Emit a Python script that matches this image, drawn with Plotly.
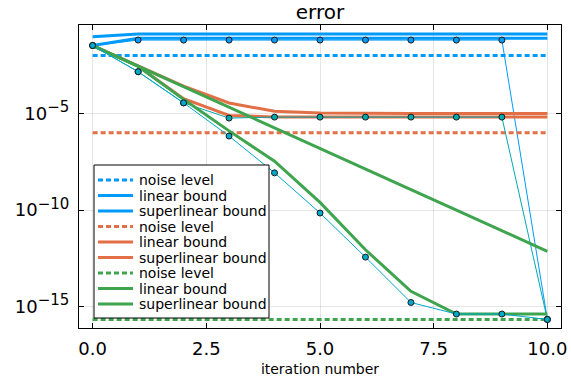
import plotly.graph_objects as go

# ---------------- data ----------------
iterations = [0, 1, 2, 3, 4, 5, 6, 7, 8, 9, 10]
group_colors = ["#009AFA", "#E36F47", "#3EA44E"]
error_colors = ["#009AFA", "#00A9AD", "#00A8CB"]
noise_levels = [1e-2, 1e-6, 2.2e-16]

blue_linear = [9.3e-2, 1.29e-1, 1.29e-1, 1.29e-1, 1.29e-1, 1.29e-1, 1.29e-1, 1.29e-1, 1.29e-1, 1.29e-1, 1.29e-1]
blue_superlinear = [3.3e-2, 7.8e-2, 7.8e-2, 7.8e-2, 7.8e-2, 7.8e-2, 7.8e-2, 7.8e-2, 7.8e-2, 7.8e-2, 7.8e-2]
blue_error = [3.3e-2, 6.3e-2, 6.3e-2, 6.3e-2, 6.3e-2, 6.3e-2, 6.3e-2, 6.3e-2, 6.3e-2, 6.3e-2, 2.2e-16]

orange_linear = [3.3e-2, 2.9e-3, 2.6e-4, 3.5e-5, 1.3e-5, 1.05e-5, 1.0e-5, 1.0e-5, 1.0e-5, 1.0e-5, 1.0e-5]
orange_superlinear = [3.3e-2, 2.8e-3, 5.8e-5, 7.9e-6, 6.6e-6, 6.5e-6, 6.5e-6, 6.5e-6, 6.5e-6, 6.5e-6, 6.5e-6]
orange_error = [3.3e-2, 1.45e-3, 3.55e-5, 5.8e-6, 6.5e-6, 6.5e-6, 6.5e-6, 6.5e-6, 6.5e-6, 6.5e-6, 2.2e-16]

green_linear = [3.3e-2, 2.8e-3, 2.5e-4, 2.1e-5, 1.8e-6, 1.55e-7, 1.35e-8, 1.15e-9, 1.0e-10, 8.5e-12, 7.4e-13]
green_superlinear = [3.3e-2, 2.8e-3, 5.4e-5, 1.26e-6, 3.4e-8, 2.5e-10, 8.9e-13, 6.3e-15, 4.2e-16, 4.2e-16, 4.2e-16]
green_error = [3.3e-2, 1.45e-3, 3.55e-5, 6.8e-7, 8.5e-9, 7.1e-11, 3.7e-13, 1.66e-15, 4.2e-16, 4.2e-16, 2.2e-16]

legend_labels = ["noise level", "linear bound", "superlinear bound"]
x_tick_vals = [0, 2.5, 5, 7.5, 10]
x_tick_text = ["0.0", "2.5", "5.0", "7.5", "10.0"]
y_tick_vals = [1e-15, 1e-10, 1e-5]
y_exponents = ["\u221215", "\u221210", "\u22125"]

linear_sets = [blue_linear, orange_linear, green_linear]
super_sets = [blue_superlinear, orange_superlinear, green_superlinear]
error_sets = [blue_error, orange_error, green_error]

FONT = "DejaVu Sans"
DASH = "5px,3px"

y_tick_text = ["10<sup><span style='font-size:15px'>%s</span></sup>" % e for e in y_exponents]

fig = go.Figure()
for g in range(3):
    c = group_colors[g]
    fig.add_trace(go.Scatter(x=iterations, y=[noise_levels[g]] * len(iterations), mode="lines",
                             line=dict(color=c, width=3, dash=DASH), name=legend_labels[0], showlegend=False))
    fig.add_trace(go.Scatter(x=iterations, y=linear_sets[g], mode="lines",
                             line=dict(color=c, width=3), name=legend_labels[1], showlegend=False))
    fig.add_trace(go.Scatter(x=iterations, y=super_sets[g], mode="lines",
                             line=dict(color=c, width=3), name=legend_labels[2], showlegend=False))
    fig.add_trace(go.Scatter(x=iterations, y=error_sets[g], mode="lines+markers",
                             line=dict(color=error_colors[g], width=1),
                             marker=dict(color=error_colors[g], size=6, line=dict(color="#1a1a1a", width=1)),
                             name="error", showlegend=False))

# ---------------- layout ----------------
W, H = 571, 381
ML, MR, MT, MB = 79, 10, 25, 53
PW, PH = W - ML - MR, H - MT - MB


def px_x(p):
    return (p - ML) / PW


def px_y(p):
    return (H - MB - p) / PH


shapes = []
annotations = []
# legend box
shapes.append(dict(type="rect", xref="paper", yref="paper", x0=px_x(94), x1=px_x(269),
                   y0=px_y(318), y1=px_y(165), line=dict(color="black", width=1),
                   fillcolor="white", layer="above"))
row = 0
for g in range(3):
    for k in range(3):
        yy = 180 + 15.5 * row
        shapes.append(dict(type="line", xref="paper", yref="paper", x0=px_x(98), x1=px_x(133),
                           y0=px_y(yy), y1=px_y(yy), layer="above",
                           line=dict(color=group_colors[g], width=3, dash=DASH if k == 0 else "solid")))
        annotations.append(dict(text=legend_labels[k], xref="paper", yref="paper", x=px_x(137), y=px_y(yy),
                                xanchor="left", yanchor="middle", showarrow=False,
                                font=dict(family=FONT, size=14, color="black")))
        row += 1

axis_common = dict(showline=True, linecolor="black", linewidth=1, mirror="allticks",
                   ticks="inside", ticklen=5, tickcolor="black", automargin=False,
                   showgrid=True, gridcolor="rgba(0,0,0,0.1)", gridwidth=1, zeroline=False,
                   tickfont=dict(family=FONT, size=18, color="black"))

fig.update_layout(
    width=W, height=H,
    margin=dict(l=ML, r=MR, t=MT, b=MB),
    paper_bgcolor="white", plot_bgcolor="white",
    title=dict(text="error", x=0.5, xref="paper", xanchor="center", y=1 - 12 / H, yanchor="middle",
               font=dict(family=FONT, size=20, color="black")),
    xaxis=dict(range=[-0.3, 10.3], tickvals=x_tick_vals, ticktext=x_tick_text, ticklabelstandoff=4,
               title=dict(text="iteration number", font=dict(family=FONT, size=14, color="black"), standoff=6),
               **axis_common),
    yaxis=dict(type="log", range=[-16.1, -0.42], tickvals=y_tick_vals, ticktext=y_tick_text,
               ticklabelstandoff=5, **axis_common),
    shapes=shapes,
    annotations=annotations,
    showlegend=False,
)

fig.write_html("out.html")
